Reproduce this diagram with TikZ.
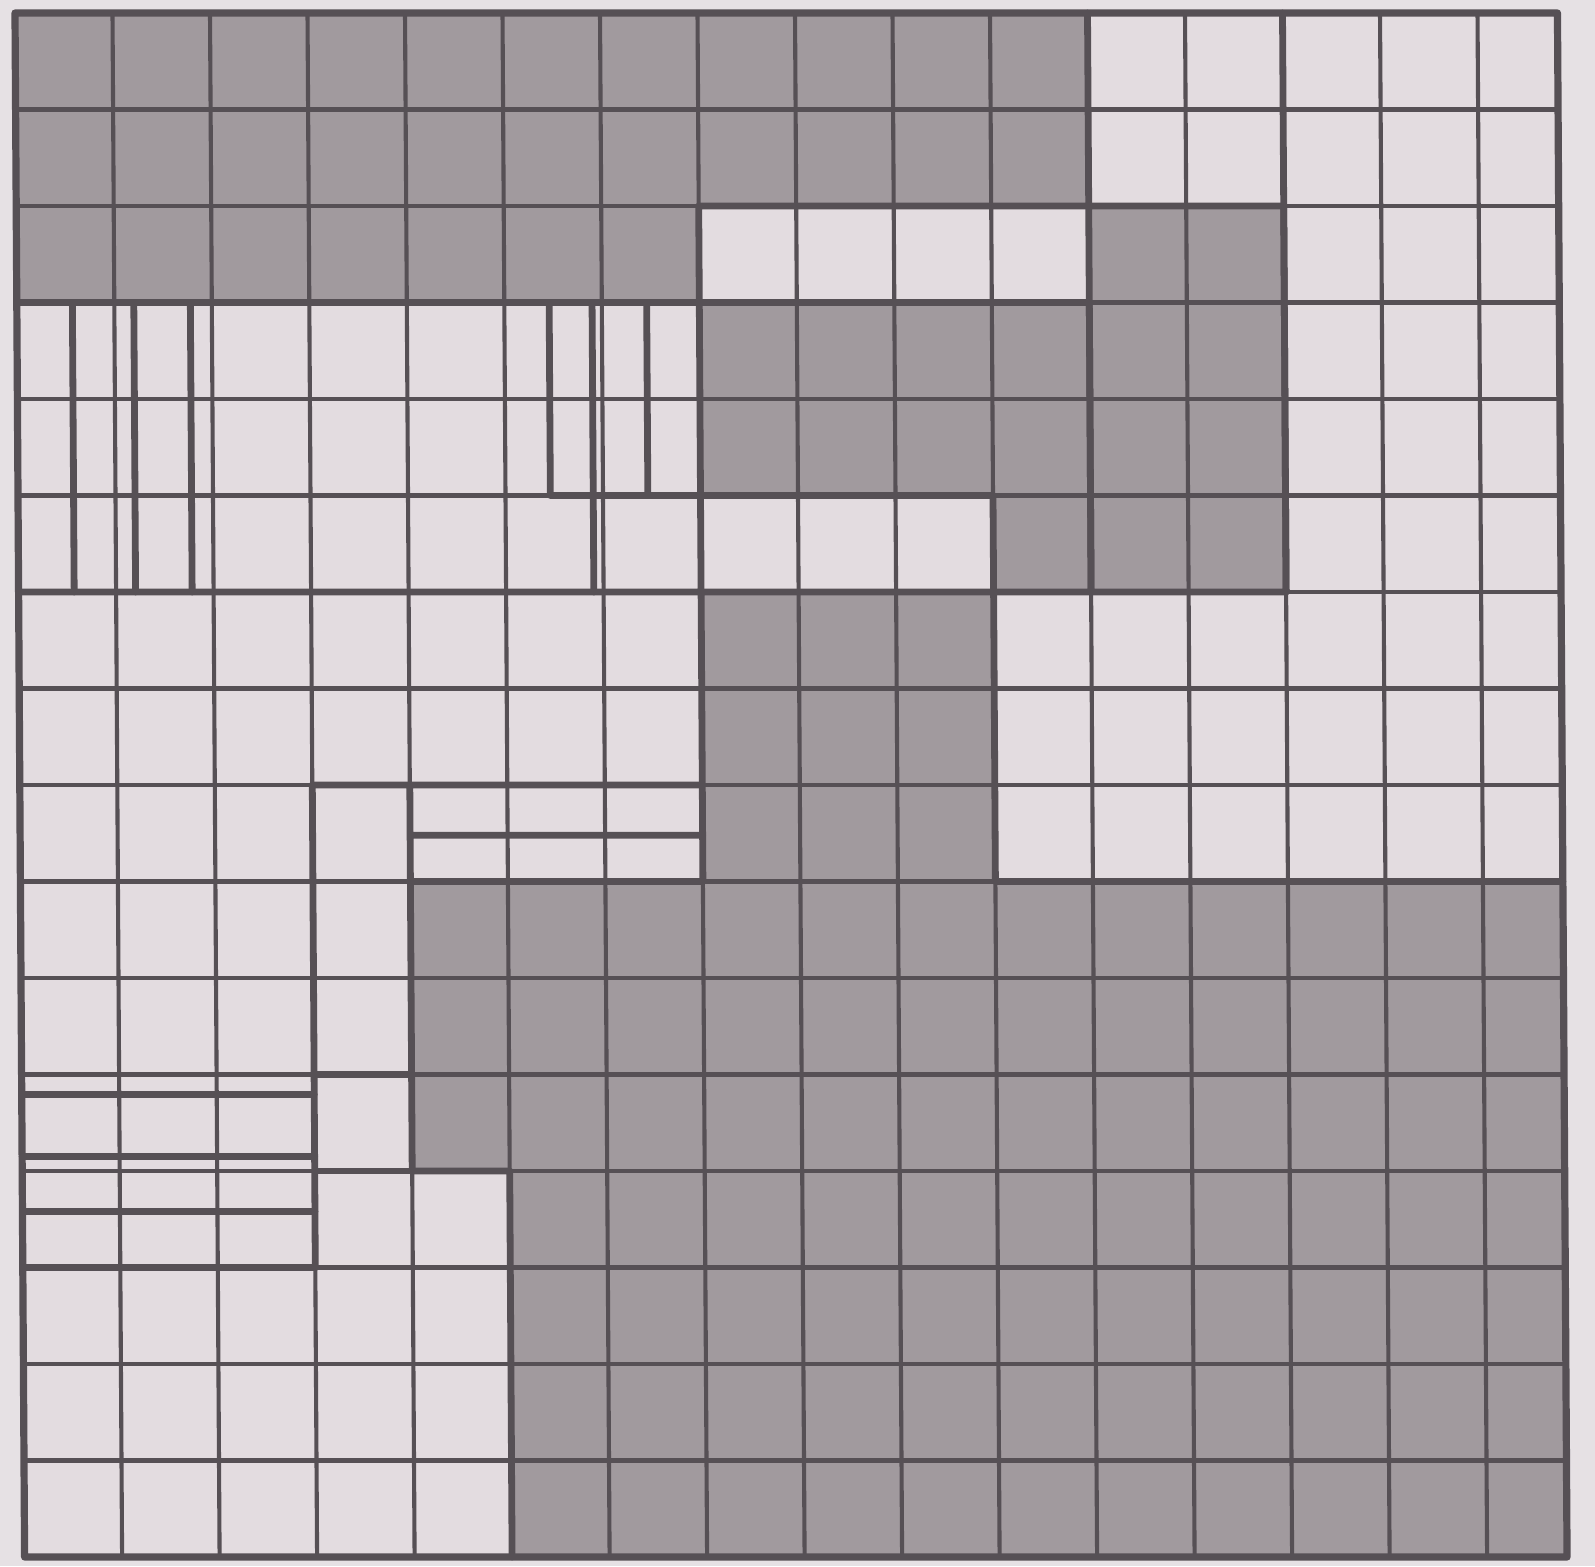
\documentclass[tikz,border=0pt]{standalone}
\definecolor{paper}{RGB}{230,225,228}
\definecolor{lightc}{RGB}{227,220,224}
\definecolor{darkc}{RGB}{161,154,158}
\definecolor{ink}{RGB}{86,80,85}
\tikzset{
  gridline/.style={draw=ink, line width=4.1pt},
  piece/.style={draw=ink, line width=6.8pt, line join=round, line cap=round},
  midline/.style={draw=ink, line width=5.4pt},
  frame/.style={draw=ink, line width=7.2pt, line join=round},
}
\begin{document}
\begin{tikzpicture}[x={(97.5pt,0pt)}, y={(0.6pt,-96.5pt)}]
\fill[paper] (-15pt,13pt) rectangle (1580pt,-1553pt);
\useasboundingbox (-15pt,13pt) rectangle (1580pt,-1553pt);
\def\R{15.82}
% fills
\fill[lightc] (0,0) -- (\R,0) -- (\R,16) -- (0,16) -- cycle;
\fill[darkc] (0,0)--(11,0)--(11,2)--(7,2)--(7,3)--(0,3)--cycle;
\fill[darkc] (11,2)--(13,2)--(13,6)--(11,6)--cycle;
\fill[darkc] (7,3)--(11,3)--(11,6)--(10,6)--(10,5)--(7,5)--cycle;
\fill[darkc] (4,9)--(7,9)--(7,6)--(10,6)--(10,9)--(\R,9)--(\R,16)--(5,16)--(5,12)--(4,12)--cycle;
% grid
\foreach \i in {1,...,15} \draw[gridline] (\i,0)--(\i,16);
\foreach \j in {1,...,15} \draw[gridline] (0,\j)--(\R,\j);
% region outlines
\draw[piece] (0,3)--(7,3)--(7,2)--(11,2)--(11,0);
\draw[piece] (11,2)--(13,2)--(13,6)--(11,6)--cycle;
\draw[piece] (7,3)--(11,3)--(11,6)--(10,6)--(10,5)--(7,5)--cycle;
\draw[piece] (4,12)--(4,9)--(7,9)--(7,6)--(10,6)--(10,9)--(\R,9);
\draw[piece] (5,16)--(5,12)--(4,12);
\draw[piece] (13,0)--(13,6);
% sub-pieces
\draw[piece] (0,6)--(7,6) (7,5)--(7,6);
\draw[piece] (0.57,3)--(0.57,6) (1.2,3)--(1.2,6) (1.78,3)--(1.78,6);
\draw[piece] (5.46,3)--(5.46,5)--(7,5) (5.9,3)--(5.9,6) (6.46,3)--(6.46,5);
\draw[piece] (3,13)--(3,8)--(7,8) (4,8)--(4,9) (4,8.52)--(7,8.52);
\draw[piece] (3,11)--(4,11) (3,12)--(4,12);
\draw[piece] (0,11.21)--(3,11.21) (0,11.85)--(3,11.85) (0,12.42)--(3,12.42) (0,13)--(3,13);
\draw[midline] (3,13)--(5,13);
% frame
\draw[frame] (0,0)--(\R,0)--(\R,16)--(0,16)--cycle;
\end{tikzpicture}
\end{document}
